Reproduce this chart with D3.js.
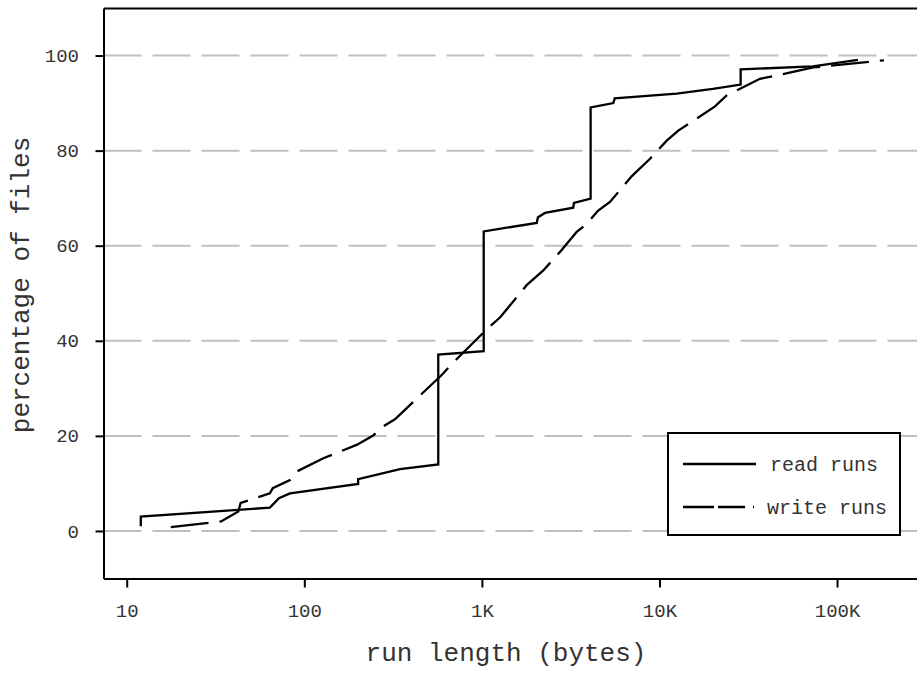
<!DOCTYPE html>
<html>
  <head>
    <script src="https://d3js.org/d3.v7.min.js"></script>
    <style>
      body { margin: 0; background: #fff; }
      text { font-family: "Courier New", "Liberation Mono", monospace; fill: #333; }
    </style>
  </head>
  <body>
    <svg id="runvis" width="917" height="676"></svg>

  <script>
  // run length data (bytes, percentage of files)
  var readRunLength = [12, 12, 64, 72, 83, 201, 201, 346, 568, 568, 1024, 1024, 2035, 2070, 2266, 3270, 3300, 4096, 4096, 5500, 5600, 12500, 20000, 28650, 28650, 73000, 131000];
  var readPercent   = [1, 3, 4.9, 6.9, 7.9, 9.9, 10.9, 13, 14, 37.1, 37.8, 63, 64.8, 66, 66.9, 68, 69, 69.9, 89.1, 90, 91, 92, 93, 93.9, 97.1, 97.7, 99.1];

  var writeRunLength = [17.7, 34, 42.5, 43.8, 64, 66.4, 83, 90.6, 128, 197, 243, 276, 324, 420, 594, 676, 1064, 1265, 1787, 2218, 2753, 3418, 3890, 4520, 5263, 6970, 8850, 10990, 12760, 20550, 23890, 36800, 45710, 73460, 183600];
  var writePercent   = [0.8, 2.0, 4.1, 5.9, 7.9, 9.0, 10.7, 12.5, 15.3, 18.1, 20, 21.9, 23.5, 27.5, 32.8, 35.1, 42.4, 44.9, 51.7, 54.8, 58.7, 62.9, 64.6, 67.4, 69.2, 74.6, 78.3, 82.1, 84.2, 89.3, 91.6, 95.1, 95.8, 97.5, 99.0];

  var xTicks = [10, 100, 1000, 10000, 100000];
  var xTickLabels = ["10", "100", "1K", "10K", "100K"];
  var yTicks = [0, 20, 40, 60, 80, 100];

  var seriesNames = ["read runs", "write runs"];

  var svg = d3.select("#runvis");

  // scales
  var x = d3.scaleLog().domain([7.4, 282000]).range([103.5, 917]);
  var y = d3.scaleLinear().domain([-10, 110]).range([578.5, 8]);

  // grid lines
  svg.append("g")
    .selectAll("line")
    .data(yTicks)
    .enter().append("line")
      .attr("x1", x.range()[0])
      .attr("x2", x.range()[1])
      .attr("y1", function(d) { return y(d); })
      .attr("y2", function(d) { return y(d); })
      .style("stroke", "#c0c0c0")
      .style("stroke-width", 2)
      .style("stroke-dasharray", "38,11");

  // the lines
  var line = d3.line()
    .x(function(d) { return x(d[0]); })
    .y(function(d) { return y(d[1]); });

  svg.append("path")
    .datum(d3.zip(readRunLength, readPercent))
    .attr("d", line)
    .style("fill", "none")
    .style("stroke", "#000")
    .style("stroke-width", 2.3);

  svg.append("path")
    .datum(d3.zip(writeRunLength, writePercent))
    .attr("d", line)
    .style("fill", "none")
    .style("stroke", "#000")
    .style("stroke-width", 2.3)
    .style("stroke-dasharray", "38,11");

  // axes
  var yAxis = svg.append("g")
    .attr("transform", "translate(" + x.range()[0] + ",0)")
    .call(d3.axisLeft(y).tickValues(yTicks).tickSize(8).tickSizeOuter(0).tickPadding(16.5));

  var xAxis = svg.append("g")
    .attr("transform", "translate(0," + y.range()[0] + ")")
    .call(d3.axisBottom(x).tickValues(xTicks).tickSize(9).tickSizeOuter(0).tickPadding(16)
      .tickFormat(function(d, i) { return xTickLabels[i]; }));

  var topAxis = svg.append("g")
    .attr("transform", "translate(0," + y.range()[1] + ")")
    .call(d3.axisTop(x).tickValues([]).tickSizeOuter(0));

  [yAxis, xAxis, topAxis].forEach(function(a) {
    a.selectAll("path, line").style("stroke", "#000").style("stroke-width", 2);
    a.selectAll("text").style("font-size", "19px").style("fill", "#333")
      .style("font-family", "'Courier New', 'Liberation Mono', monospace");
  });

  // axis titles
  svg.append("text")
    .attr("x", 506)
    .attr("y", 661)
    .attr("text-anchor", "middle")
    .style("font-size", "26px")
    .text("run length (bytes)");

  svg.append("text")
    .attr("transform", "translate(29,285) rotate(-90)")
    .attr("text-anchor", "middle")
    .style("font-size", "26px")
    .text("percentage of files");

  // legend
  var legend = svg.append("g")
    .attr("transform", "translate(668,433)");

  legend.append("rect")
    .attr("width", 232)
    .attr("height", 102)
    .style("fill", "#fff")
    .style("stroke", "#000")
    .style("stroke-width", 2);

  var entry = legend.selectAll(".entry")
    .data(seriesNames)
    .enter().append("g")
      .attr("class", "entry")
      .attr("transform", function(d, i) { return "translate(0," + (31 + i * 43) + ")"; });

  entry.append("line")
    .attr("x1", 15)
    .attr("x2", function(d, i) { return i === 0 ? 88 : 86; })
    .style("stroke", "#000")
    .style("stroke-width", 2.3)
    .style("stroke-dasharray", function(d, i) { return i === 0 ? null : "31,4,27,8,2"; });

  entry.append("text")
    .attr("x", function(d, i) { return i === 0 ? 102 : 99; })
    .attr("dy", "0.35em")
    .style("font-size", "20px")
    .text(function(d) { return d; });

  </script>
  </body>
</html>
